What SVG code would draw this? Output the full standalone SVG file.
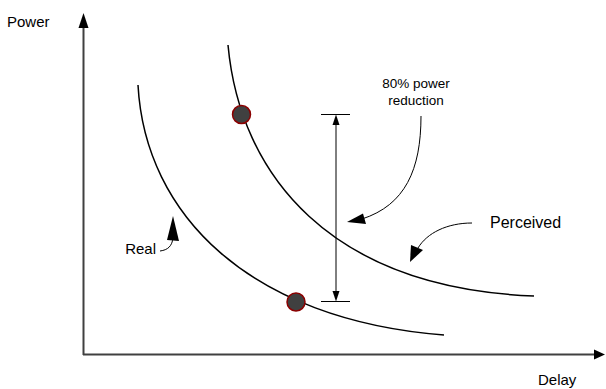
<svg xmlns="http://www.w3.org/2000/svg" width="606" height="389" viewBox="0 0 606 389">
<style>
text{font-family:"Liberation Sans",Arial,sans-serif;fill:#000}
.lbl{font-size:15px}
.sm{font-size:13.5px}
.axis{stroke:#404040;stroke-width:2;fill:none}
.curve{stroke:#000;stroke-width:1.5;fill:none}
.thin{stroke:#000;stroke-width:1;fill:none}
.head{fill:#000;stroke:none}
.dot{fill:#404040;stroke:#8b0000;stroke-width:1.5}
</style>
<rect width="606" height="389" fill="#fff"/>
<g id="axes">
<path class="axis" d="M83.5,355 V27 M83,354.5 H594"/>
<polygon fill="#000" points="83.5,13 78.5,28 88.5,28"/>
<polygon fill="#000" points="605,354.5 594,349.5 594,359.5"/>
</g>
<g id="curve-perceived"><path class="curve" d="M228,45 C240,175 330,288 534,296"/></g>
<g id="curve-real"><path class="curve" d="M138,85 C145,215 250,320 444,335"/></g>
<g id="connectors">
<path class="thin" d="M321,114.5 H350 M321,301.5 H350 M336,124 V292"/>
<polygon class="head" points="336,114.5 332.5,125 339.5,125"/>
<polygon class="head" points="336,301.5 332.5,291 339.5,291"/>
<path class="thin" d="M421,116 C421,170 405,205 362,219"/>
<polygon class="head" points="347,222 363,213.5 366,224"/>
<path class="thin" d="M472,223 C447,223 427,233 418,248"/>
<polygon class="head" points="410,262 411,245 423,250"/>
<path class="thin" d="M160,251 C168,250 172,246 173,238"/>
<polygon class="head" points="173,216 167,240 179,241"/>
</g>
<g id="dot-perceived"><circle class="dot" cx="241.5" cy="114.5" r="9"/></g>
<g id="dot-real"><circle class="dot" cx="296" cy="302" r="9"/></g>
<g id="labels">
<text class="lbl" x="7" y="27">Power</text>
<text class="lbl" x="538" y="385">Delay</text>
<text class="sm" x="416" y="88" text-anchor="middle">80% power</text>
<text class="sm" x="416" y="105" text-anchor="middle">reduction</text>
<text class="lbl" x="490" y="228" style="font-size:16px">Perceived</text>
<text class="lbl" x="156" y="254" text-anchor="end">Real</text>
</g>
</svg>
